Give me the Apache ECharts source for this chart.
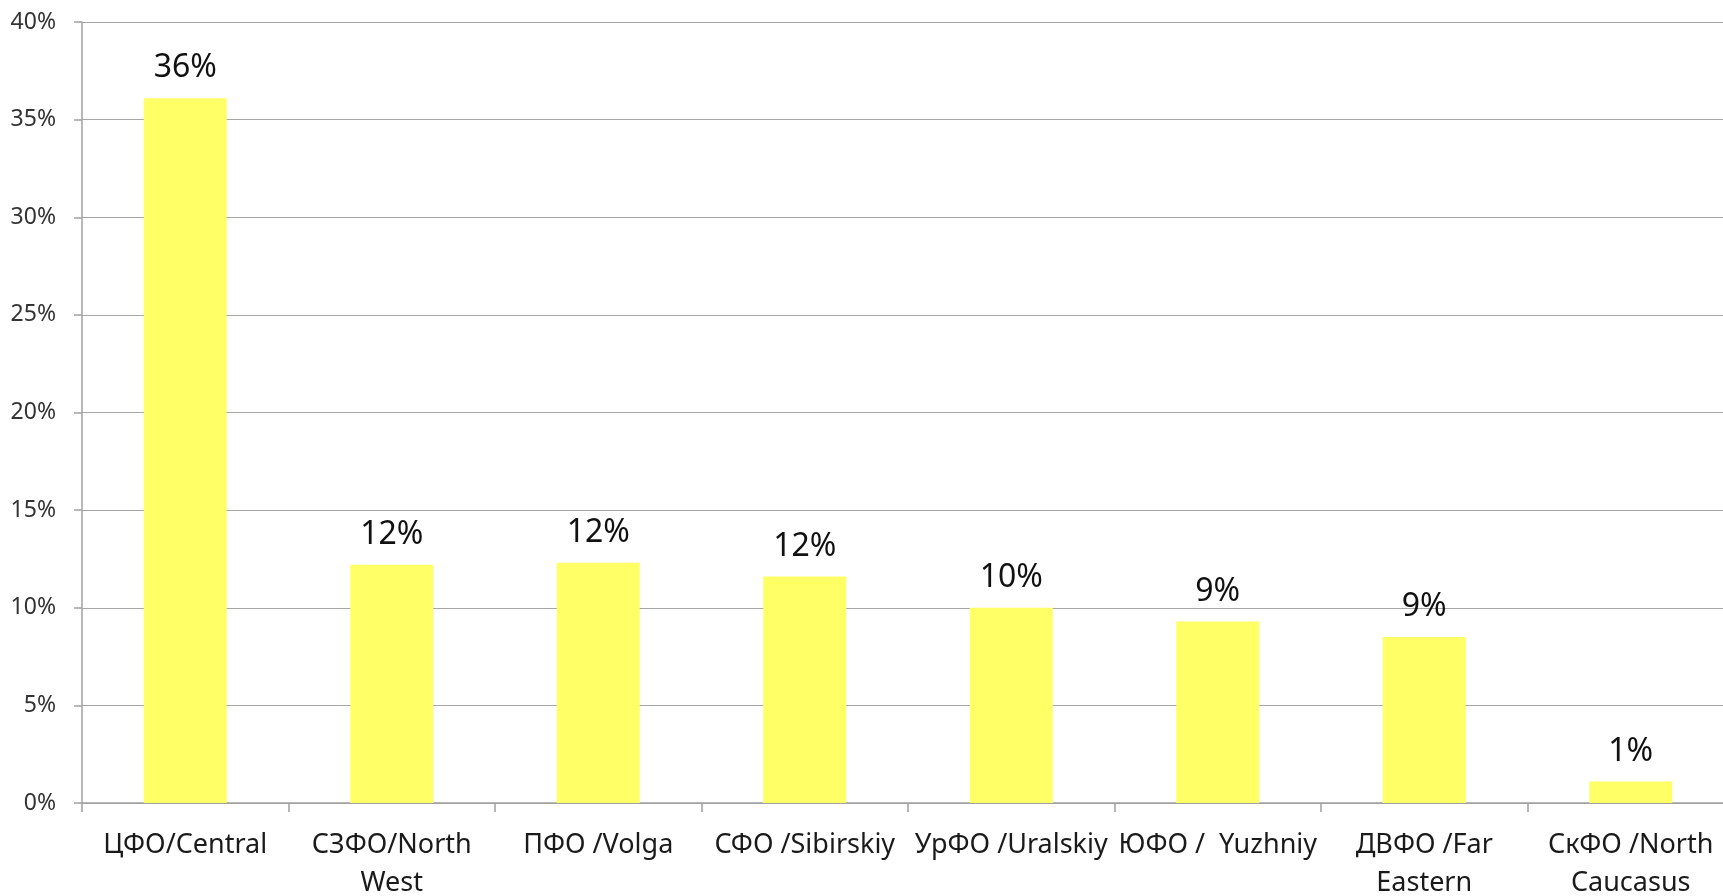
<!DOCTYPE html>
<html>
<head>
<meta charset="utf-8">
<title>Federal districts</title>
<script src="https://cdn.jsdelivr.net/npm/echarts@6/dist/echarts.min.js"></script>
<style>
  html, body { margin: 0; padding: 0; background: #fff; }
  #chart { width: 1723px; height: 896px; }
</style>
</head>
<body>
<div id="chart"></div>
<script>
// districts and their share
var categories = [
  "ЦФО/Central",
  "СЗФО/North\nWest",
  "ПФО /Volga",
  "СФО /Sibirskiy",
  "УрФО /Uralskiy",
  "ЮФО /  Yuzhniy",
  "ДВФО /Far\nEastern",
  "СкФО /North\nCaucasus"
];
var shares = [36.1, 12.2, 12.3, 11.6, 10.0, 9.3, 8.5, 1.1];
var yTicks = [0, 5, 10, 15, 20, 25, 30, 35, 40];

var font = "'Noto Sans', 'DejaVu Sans', sans-serif";
var chart = echarts.init(document.getElementById("chart"));

chart.setOption({
  animation: false,
  grid: {
    left: 82,
    top: 22,
    bottom: 93,
    right: -11,
    containLabel: false,
    outerBoundsMode: "none"
  },
  xAxis: {
    type: "category",
    data: categories,
    boundaryGap: true,
    axisLine: {
      lineStyle: { color: "#a0a0a0", width: 1.5 }
    },
    axisTick: {
      show: true,
      length: 9,
      lineStyle: { color: "#a0a0a0", width: 1.5 }
    },
    axisLabel: {
      interval: 0,
      margin: 23,
      color: "#1a1a1a",
      fontFamily: font,
      fontSize: 27,
      lineHeight: 38
    }
  },
  yAxis: {
    type: "value",
    min: yTicks[0],
    max: yTicks[yTicks.length - 1],
    interval: 5,
    axisLine: {
      show: true,
      lineStyle: { color: "#a0a0a0", width: 1.5 }
    },
    axisTick: {
      show: true,
      length: 8,
      lineStyle: { color: "#a0a0a0", width: 1.5 }
    },
    axisLabel: {
      margin: 26,
      color: "#333",
      fontFamily: font,
      fontSize: 23,
      formatter: "{value}%"
    },
    splitLine: {
      show: true,
      lineStyle: { color: "#a6a6a6", width: 1.2 }
    }
  },
  series: [
    {
      type: "bar",
      data: shares,
      barWidth: 83,
      itemStyle: { color: "#ffff66" },
      label: {
        show: true,
        position: "top",
        distance: 14,
        color: "#111",
        fontFamily: font,
        fontSize: 32,
        formatter: function (p) {
          return Math.round(p.value) + "%";
        }
      }
    }
  ]
});
</script>
</body>
</html>
